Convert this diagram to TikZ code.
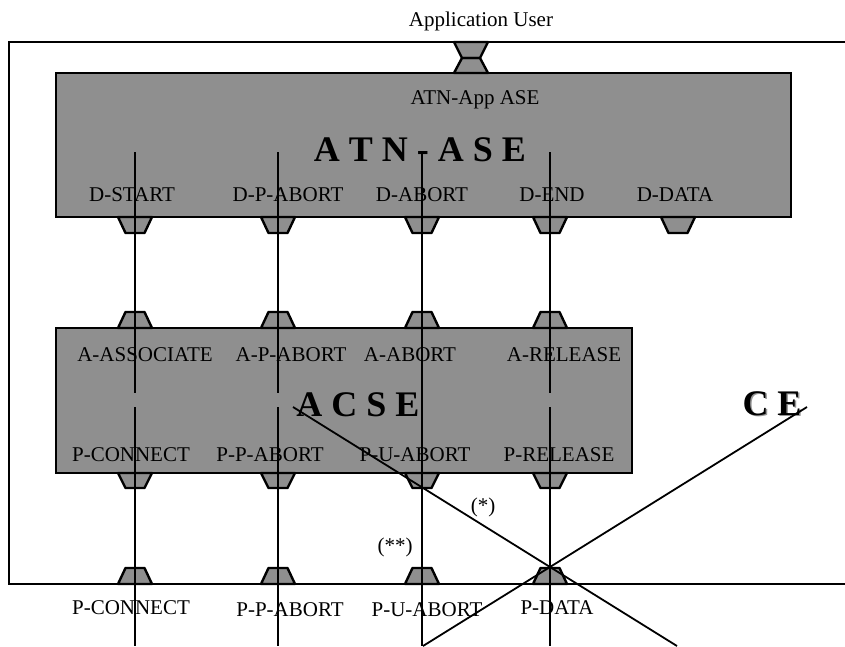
\documentclass[tikz,border=0pt]{standalone}
\usepackage{fontspec}
\setmainfont{Liberation Serif}
\definecolor{boxgray}{RGB}{143,143,143}
\definecolor{shadowgray}{RGB}{150,150,150}
\begin{document}
\begin{tikzpicture}[x=1pt,y=-1pt,
  lbl/.style={font=\fontsize{21}{25}\selectfont, anchor=base, inner sep=0pt},
  big/.style={font=\fontsize{36}{40}\selectfont\bfseries, anchor=base, inner sep=0pt},
  wire/.style={line width=1.8pt},
  frame/.style={line width=2.2pt},
  blk/.style={draw, line width=2pt, fill=boxgray, anchor=north west, inner sep=0pt, outer sep=0pt},
  sapfill/.style={fill=boxgray},
  sapline/.style={draw=black, line width=2.4pt, line join=round},
]
\useasboundingbox (0,0) rectangle (845,646);
% outer frame
\coordinate (ftr) at (845,42);
\coordinate (ftl) at (9,42);
\coordinate (fbl) at (9,584);
\coordinate (fbr) at (845,584);
\draw[frame] (ftr) -- (ftl) -- (fbl) -- (fbr);
% boxes
\node[blk, minimum width=735pt, minimum height=144pt] (atn) at (56,73) {};
\node[blk, minimum width=576pt, minimum height=145pt] (acse) at (56,328) {};
% hourglass
\foreach \s in {sapfill,sapline} {
  \path[\s] (454,42) -- (488,42) -- (480,58) -- (462,58) -- cycle;
  \path[\s] (462,58) -- (480,58) -- (488,73) -- (454,73) -- cycle;
}
% service access points
\foreach \s in {sapfill,sapline} {
  \foreach \x in {135,278,422,550,678} {
    \path[\s] (\x-17,217) -- (\x+17,217) -- (\x+9.5,233) -- (\x-9.5,233) -- cycle;
  }
  \foreach \x in {135,278,422,550} {
    \path[\s] (\x-9.5,312) -- (\x+9.5,312) -- (\x+17,328) -- (\x-17,328) -- cycle;
    \path[\s] (\x-17,473) -- (\x+17,473) -- (\x+9.5,488) -- (\x-9.5,488) -- cycle;
    \path[\s] (\x-9.5,568) -- (\x+9.5,568) -- (\x+17,584) -- (\x-17,584) -- cycle;
  }
}
% texts
\node[lbl] (appuser) at (481,26) {Application User};
\node[lbl] (atnapp) at (475,104) {ATN-App ASE};
\node[big] (atnase) at (420,161) {A T N - A S E};
\node[lbl] (dstart) at (132,201) {D-START};
\node[lbl] (dpabort) at (288,201) {D-P-ABORT};
\node[lbl] (dabort) at (422,201) {D-ABORT};
\node[lbl] (dend) at (552,201) {D-END};
\node[lbl] (ddata) at (675,201) {D-DATA};
\node[lbl] (aassoc) at (145,361) {A-ASSOCIATE};
\node[lbl] (apabort) at (291,361) {A-P-ABORT};
\node[lbl] (aabort) at (410,361) {A-ABORT};
\node[lbl] (arel) at (564,361) {A-RELEASE};
\node[big] (acsetxt) at (358,416) {A C S E};
\node[lbl] (pconn) at (131,461) {P-CONNECT};
\node[lbl] (ppabort) at (270,461) {P-P-ABORT};
\node[lbl] (puabort) at (415,461) {P-U-ABORT};
\node[lbl] (prel) at (559,461) {P-RELEASE};
\node[lbl] (bpconn) at (131,614) {P-CONNECT};
\node[lbl] (bppabort) at (290,616) {P-P-ABORT};
\node[lbl] (bpuabort) at (427,616) {P-U-ABORT};
\node[lbl] (bpdata) at (557,614) {P-DATA};
\node[lbl] (dstar) at (395,552) {(**)};
\node[lbl] (sstar) at (483,512) {(*)};
\node[big, text=shadowgray] (ceshadow) at (773.5,416.5) {C E};
\node[big] (ce) at (772,415) {C E};
% vertical wires
\foreach \i/\x in {1/135,2/278,4/550} {
  \coordinate (top\i) at (\x,152);
  \coordinate (gapa\i) at (\x,393);
  \coordinate (gapb\i) at (\x,407);
  \coordinate (bot\i) at (\x,646);
  \draw[wire] (top\i) -- (gapa\i);
  \draw[wire] (gapb\i) -- (bot\i);
}
\coordinate (top3) at (422,152);
\coordinate (bot3) at (422,646);
\draw[wire] (top3) -- (bot3);
% crossing lines
\coordinate (xc) at (550,567);
\coordinate (xul) at (293,407);
\coordinate (xlr) at (677,646);
\coordinate (xll) at (423,646);
\coordinate (xur) at (807,407);
\draw[wire] (xul) -- (xc) -- (xlr);
\draw[wire] (xll) -- (xc) -- (xur);
\end{tikzpicture}
\end{document}
